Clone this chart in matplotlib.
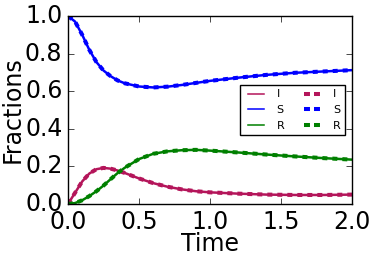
import matplotlib
matplotlib.use('Agg')
import matplotlib.pyplot as plt

# valores
t = [0.0, 0.05, 0.1, 0.15, 0.2, 0.25, 0.3, 0.35, 0.4, 0.5, 0.6, 0.7, 0.8, 0.9,
     1.0, 1.2, 1.4, 1.6, 1.8, 2.0]
S = [1.0, 0.97, 0.90, 0.82, 0.755, 0.71, 0.68, 0.657, 0.642, 0.625, 0.62, 0.624,
     0.633, 0.644, 0.655, 0.672, 0.687, 0.698, 0.705, 0.712]
I = [0.0, 0.06, 0.12, 0.162, 0.185, 0.192, 0.188, 0.178, 0.165, 0.136, 0.111, 0.092,
     0.078, 0.068, 0.062, 0.055, 0.05, 0.048, 0.048, 0.05]
R = [0.0, 0.005, 0.02, 0.042, 0.068, 0.098, 0.132, 0.165, 0.193, 0.239, 0.267, 0.28,
     0.286, 0.288, 0.284, 0.274, 0.263, 0.253, 0.244, 0.236]

col_I = '#b4155a'
col_S = '#0000ff'
col_R = '#008000'

plt.style.use('classic')
fig = plt.figure(figsize=(3.74, 2.60), dpi=100)
ax = fig.add_axes([68/374, 56/260, 284/374, 188/260])

for y, c, lab in [(I, col_I, 'I'), (S, col_S, 'S'), (R, col_R, 'R')]:
    ax.plot(t, y, color=c, lw=1.8, label=lab)
for y, c, lab in [(I, col_I, 'I'), (S, col_S, 'S'), (R, col_R, 'R')]:
    # classic: los guiones no escalan con lw
    ax.plot(t, y, color=c, lw=2.9, ls=(0, (3.6, 3.6)), label=lab)

ax.set_xlim(0, 2)
ax.set_ylim(0, 1)
ax.set_xticks([0.0, 0.5, 1.0, 1.5, 2.0])
ax.set_yticks([0.0, 0.2, 0.4, 0.6, 0.8, 1.0])
ax.tick_params(labelsize=17)
ax.set_xlabel('Time', fontsize=17, labelpad=-1)
ax.set_ylabel('Fractions', fontsize=17, labelpad=0)
leg = ax.legend(loc='center right', ncol=2, fontsize=8, handlelength=2.1,
                columnspacing=1.5, borderaxespad=0.6, handletextpad=0.8)
for i, ln in enumerate(leg.get_lines()):
    if i < 3:
        ln.set_linewidth(1.1)
    else:
        ln.set_linewidth(2.9)
        ln.set_linestyle((0, (4.3, 2.9)))

fig.savefig('out.png', dpi=100)
